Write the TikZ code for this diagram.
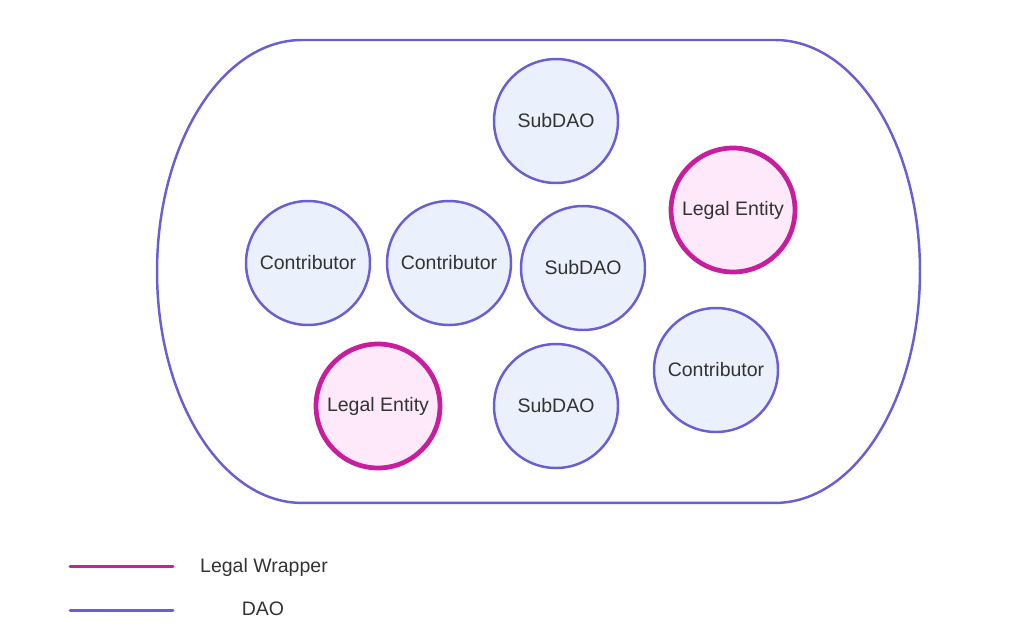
\documentclass[tikz,border=0pt]{standalone}
\usepackage{fontspec}
\setmainfont{Liberation Sans}
\usepackage{xcolor}
\usepackage{tikz}
\usetikzlibrary{positioning,calc}

\definecolor{daoline}{HTML}{6A5ED4}
\definecolor{daofill}{HTML}{EBF0FD}
\definecolor{legalline}{HTML}{C81E9E}
\definecolor{legalfill}{HTML}{FDE9F9}
\definecolor{txt}{HTML}{333333}

\begin{document}
\begin{tikzpicture}[x=0.02cm, y=-0.02cm,
    every node/.style={font=\fontsize{11.1}{13}\selectfont, text=txt},
    dao/.style={circle, draw=daoline, fill=daofill, line width=1.4pt, minimum size=2.48cm, inner sep=0pt},
    legal/.style={circle, draw=legalline, fill=legalfill, line width=2.7pt, minimum size=2.48cm, inner sep=0pt}]
\useasboundingbox (0,0) rectangle (1024,632);

% outer DAO boundary
\draw[daoline, line width=1.4pt] (302,40) -- (775,40) arc (90:-90:2.9cm and 4.63cm)
    -- ++(-473,0) arc (270:90:2.9cm and 4.63cm) -- cycle;

% members
\node[dao] (subA) at (556,121) {SubDAO};
\node[dao] (contA) at (308,263) {Contributor};
\node[dao] (contB) at (449,263) {Contributor};
\node[dao] (subB) at (583,268) {SubDAO};
\node[legal] (legA) at (733,210) {Legal Entity};
\node[dao] (contC) at (716,370) {Contributor};
\node[legal] (legB) at (378,406) {Legal Entity};
\node[dao] (subC) at (556,406) {SubDAO};

% legend
\draw[legalline, line width=1.7pt, line cap=round] (70,566) -- (173,566);
\node[anchor=west] (keyLegal) at (194,567) {Legal Wrapper};
\draw[daoline, line width=1.7pt, line cap=round] (70,610) -- (173,610);
\node (keyDao) at (263,609) {DAO};
\end{tikzpicture}
\end{document}
